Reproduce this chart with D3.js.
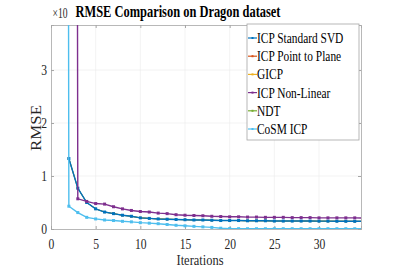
<!DOCTYPE html>
<html><head><meta charset="utf-8">
<script src="https://cdn.jsdelivr.net/npm/d3@7"></script>
<style>body{margin:0;background:#fff}svg{display:block}svg text{font-family:"Liberation Serif","DejaVu Serif",serif !important}</style>
</head><body>
<svg id="c" width="399" height="273" font-family="Liberation Serif"></svg>
<script>
const iterations = d3.range(1, 36);
const seriesNames = ["ICP Standard SVD","ICP Point to Plane","GICP","ICP Non-Linear","NDT","CoSM ICP"];
const seriesColors = ["#0072BD","#D95319","#EDB120","#7E2F8E","#77AC30","#4DBEEE"];
const icpSVD = [null,1.33,0.77,0.50,0.38,0.32,0.29,0.26,0.24,0.21,0.20,0.19,0.185,0.18,0.175,0.17,0.17,0.165,0.16,0.16,0.16,0.155,0.155,0.155,0.15,0.15,0.15,0.15,0.15,0.148,0.148,0.147,0.146,0.145,0.145];
const icpP2P = icpSVD.slice();
const gicp = icpSVD.slice();
const icpNL = [100,100,0.57,0.52,0.48,0.47,0.42,0.38,0.35,0.33,0.32,0.30,0.29,0.27,0.26,0.255,0.25,0.24,0.235,0.23,0.23,0.225,0.225,0.22,0.22,0.22,0.215,0.215,0.215,0.21,0.21,0.21,0.21,0.21,0.205];
const ndt = icpSVD.slice();
const cosm = [100,0.43,0.31,0.22,0.19,0.17,0.16,0.145,0.135,0.12,0.11,0.10,0.085,0.07,0.06,0.05,0.04,0.03,0.015,0.008,0.006,0.005,0.005,0.005,0.005,0.005,0.005,0.005,0.005,0.005,0.005,0.005,0.005,0.005,0.005];
const seriesValues = [icpSVD, icpP2P, gicp, icpNL, ndt, cosm];
const xTicks = [0,5,10,15,20,25,30];
const yTicks = [0,1,2,3];

const FONT = "Liberation Serif";
const svg = d3.select("#c");
const L=51, R=361, T=25, B=229;
const x = d3.scaleLinear().domain([0,34.7]).range([L,R]);
const y = d3.scaleLinear().domain([0,3.85]).range([B,T]);

function condense(sel, k){
  sel.each(function(){
    const n = this.getComputedTextLength();
    d3.select(this).attr("textLength", n*k).attr("lengthAdjust","spacingAndGlyphs");
  });
}

// grid
const g = svg.append("g");
g.selectAll(".gx").data(xTicks.filter(d=>d>0)).join("line")
  .attr("x1",d=>x(d)).attr("x2",d=>x(d)).attr("y1",T).attr("y2",B)
  .attr("stroke","#ebebeb").attr("stroke-width",0.6);
g.selectAll(".gy").data(yTicks.filter(d=>d>0)).join("line")
  .attr("y1",d=>y(d)).attr("y2",d=>y(d)).attr("x1",L).attr("x2",R)
  .attr("stroke","#ebebeb").attr("stroke-width",0.6);

// axes
const ax = svg.append("g").attr("transform",`translate(0,${B})`)
  .call(d3.axisBottom(x).tickValues(xTicks).tickSize(-3).tickPadding(10).tickFormat(d3.format("d")));
const ay = svg.append("g").attr("transform",`translate(${L},0)`)
  .call(d3.axisLeft(y).tickValues(yTicks).tickSize(-3).tickPadding(4).tickFormat(d3.format("d")));
const axT = svg.append("g").attr("transform",`translate(0,${T})`)
  .call(d3.axisTop(x).tickValues(xTicks).tickSize(-3).tickFormat(""));
const ayR = svg.append("g").attr("transform",`translate(${R},0)`)
  .call(d3.axisRight(y).tickValues(yTicks).tickSize(-3).tickFormat(""));
[ax,ay,axT,ayR].forEach(a=>{
  a.attr("font-family",FONT);
  a.select(".domain").attr("stroke","#a6a6a6").attr("stroke-width",0.8);
  a.selectAll(".tick line").attr("stroke","#a6a6a6");
  a.selectAll(".tick text").attr("fill","#262626").attr("font-family",FONT).attr("font-size",14.5);
});
condense(ax.selectAll(".tick text"),0.8);
condense(ay.selectAll(".tick text"),0.8);

// lines
svg.append("clipPath").attr("id","cp").append("rect").attr("x",L).attr("y",T).attr("width",R-L).attr("height",B-T);
const plot = svg.append("g").attr("clip-path","url(#cp)");
const line = d3.line().defined(d=>d!=null).x((d,i)=>x(iterations[i])).y(d=>y(d));
const order = [1,2,4,0,3,5];
order.forEach(k=>{
  const hidden = (k===1||k===2||k===4);
  const s = plot.append("g");
  s.append("path").datum(seriesValues[k]).attr("d",line).attr("fill","none")
    .attr("stroke",seriesColors[k]).attr("stroke-width",hidden?0.8:1.4);
  const pts = seriesValues[k].map((v,i)=>({v,i})).filter(p=>p.v!=null);
  s.selectAll("rect").data(pts).join("rect")
    .attr("x",p=>x(iterations[p.i])-(hidden?1:1.5)).attr("y",p=>y(p.v)-(hidden?1:1.5))
    .attr("width",hidden?2:3).attr("height",hidden?2:3).attr("fill",seriesColors[k]);
});

// title & labels
svg.append("text").attr("x",178).attr("y",17).attr("text-anchor","middle")
  .attr("font-family",FONT).attr("font-weight","bold").attr("font-size",16).attr("fill","#000")
  .attr("textLength",205).attr("lengthAdjust","spacingAndGlyphs")
  .text("RMSE Comparison on Dragon dataset");
svg.append("text").attr("x",52.5).attr("y",18).attr("font-family",FONT).attr("font-size",14).attr("fill","#262626")
  .attr("textLength",15).attr("lengthAdjust","spacingAndGlyphs").text("×10");
svg.append("text").attr("x",200).attr("y",265).attr("text-anchor","middle").attr("font-family",FONT).attr("font-size",14).attr("fill","#262626")
  .attr("textLength",47).attr("lengthAdjust","spacingAndGlyphs").text("Iterations");
svg.append("text").attr("transform","translate(41,128) rotate(-90)").attr("text-anchor","middle").attr("font-family",FONT).attr("font-size",15).attr("fill","#262626")
  .attr("textLength",46).attr("lengthAdjust","spacingAndGlyphs").text("RMSE");

// legend
const lg = svg.append("g").attr("font-family",FONT);
lg.append("rect").attr("x",247).attr("y",24).attr("width",112).attr("height",116)
  .attr("fill","#fff").attr("stroke","#a6a6a6").attr("stroke-width",0.8);
seriesNames.forEach((n,i)=>{
  const yy = 38 + i*18.2;
  lg.append("line").attr("x1",248).attr("x2",257).attr("y1",yy).attr("y2",yy)
    .attr("stroke",seriesColors[i]).attr("stroke-width",1.2);
  lg.append("rect").attr("x",251.5).attr("y",yy-1).attr("width",2).attr("height",2).attr("fill",seriesColors[i]);
  lg.append("text").attr("class","lt").attr("x",257).attr("y",yy+5).attr("font-family",FONT).attr("font-size",15).attr("fill","#000").text(n);
});
condense(lg.selectAll(".lt"),0.76);
</script>
</body></html>
